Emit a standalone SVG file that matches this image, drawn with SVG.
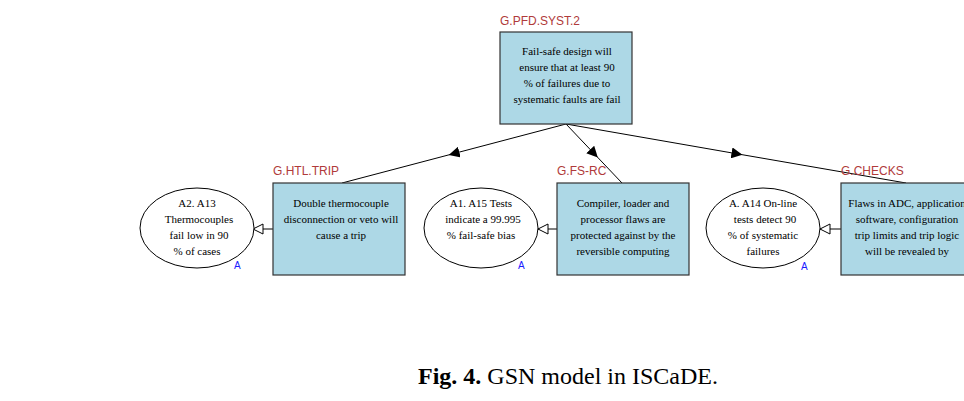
<svg xmlns="http://www.w3.org/2000/svg" width="964" height="401" viewBox="0 0 964 401">
<defs>
<marker id="fa" viewBox="0 0 10 10" refX="5" refY="5" markerWidth="11" markerHeight="11" markerUnits="userSpaceOnUse" orient="auto"><path d="M0,0 L10,5 L0,10 z" fill="#000"/></marker>
<marker id="ha" viewBox="0 0 12 12" refX="11" refY="6" markerWidth="12" markerHeight="12" markerUnits="userSpaceOnUse" orient="auto"><path d="M1,1 L11,6 L1,11 z" fill="#fff" stroke="#000" stroke-width="1"/></marker>
</defs>
<style>
.box{fill:#add8e6;stroke:#333;stroke-width:1.2}
.ell{fill:#fff;stroke:#000;stroke-width:1}
.t{font-family:"Liberation Serif","Times New Roman",serif;font-size:11px;fill:#000;text-anchor:middle}
.lbl{font-family:"Liberation Sans",Arial,sans-serif;font-size:12px;fill:#b03a3a}
.a{font-family:"Liberation Sans",Arial,sans-serif;font-size:10px;fill:#1a1aff}
.ln{stroke:#000;stroke-width:1;fill:none}
.cap{font-family:"Liberation Serif","Times New Roman",serif;font-size:24px;fill:#000}
</style>
<rect width="964" height="401" fill="#fff"/>
<g id="connectors">
<path class="ln" d="M566,124 L454,153.5" marker-end="url(#fa)"/><path class="ln" d="M454,153.5 L342,183"/>
<path class="ln" d="M566,124 L594,153.5" marker-end="url(#fa)"/><path class="ln" d="M594,153.5 L622,183"/>
<path class="ln" d="M566,124 L737,153.8" marker-end="url(#fa)"/><path class="ln" d="M737,153.8 L906,183"/>
<path class="ln" d="M273,229 L253,229" marker-end="url(#ha)"/>
<path class="ln" d="M557,229 L538,229" marker-end="url(#ha)"/>
<path class="ln" d="M841,229 L820,229" marker-end="url(#ha)"/>
</g>
<g id="G.PFD.SYST.2">
<text class="lbl" x="500" y="25">G.PFD.SYST.2</text>
<rect class="box" x="500" y="32" width="132" height="92"/>
<text class="t" x="567" y="55">Fail-safe design will</text>
<text class="t" x="567" y="71">ensure that at least 90</text>
<text class="t" x="567" y="87">% of failures due to</text>
<text class="t" x="567" y="103">systematic faults are fail</text>
</g>
<g id="G.HTL.TRIP">
<text class="lbl" x="273" y="175">G.HTL.TRIP</text>
<rect class="box" x="273" y="183" width="132" height="92"/>
<text class="t" x="341" y="207">Double thermocouple</text>
<text class="t" x="341" y="223">disconnection or veto will</text>
<text class="t" x="341" y="239">cause a trip</text>
</g>
<g id="A2.A13">
<ellipse class="ell" cx="197" cy="228" rx="57" ry="40"/>
<text class="t" x="197" y="207">A2. A13</text>
<text class="t" x="199" y="223">Thermocouples</text>
<text class="t" x="199" y="239">fail low in 90</text>
<text class="t" x="197" y="255">% of cases</text>
<text class="a" x="234" y="269">A</text>
</g>
<g id="G.FS-RC">
<text class="lbl" x="557" y="175">G.FS-RC</text>
<rect class="box" x="557" y="183" width="132" height="92"/>
<text class="t" x="623" y="207">Compiler, loader and</text>
<text class="t" x="623" y="223">processor flaws are</text>
<text class="t" x="623" y="239">protected against by the</text>
<text class="t" x="623" y="255">reversible computing</text>
</g>
<g id="A1.A15">
<ellipse class="ell" cx="481" cy="228" rx="57" ry="40"/>
<text class="t" x="481" y="207">A1. A15 Tests</text>
<text class="t" x="483" y="223">indicate a 99.995</text>
<text class="t" x="481" y="239">% fail-safe bias</text>
<text class="a" x="518" y="269">A</text>
</g>
<g id="G.CHECKS">
<rect class="box" x="841" y="183" width="132" height="92"/>
<text class="lbl" x="841" y="175">G.CHECKS</text>
<text class="t" x="907" y="207">Flaws in ADC, application</text>
<text class="t" x="907" y="223">software, configuration</text>
<text class="t" x="907" y="239">trip limits and trip logic</text>
<text class="t" x="907" y="255">will be revealed by</text>
</g>
<g id="A.A14">
<ellipse class="ell" cx="763" cy="228" rx="57" ry="40"/>
<text class="t" x="763" y="207">A. A14 On-line</text>
<text class="t" x="765" y="223">tests detect 90</text>
<text class="t" x="763" y="239">% of systematic</text>
<text class="t" x="763" y="255">failures</text>
<text class="a" x="801" y="270">A</text>
</g>
<text class="cap" x="418" y="384"><tspan font-weight="bold">Fig. 4.</tspan> GSN model in ISCaDE.</text>
</svg>
